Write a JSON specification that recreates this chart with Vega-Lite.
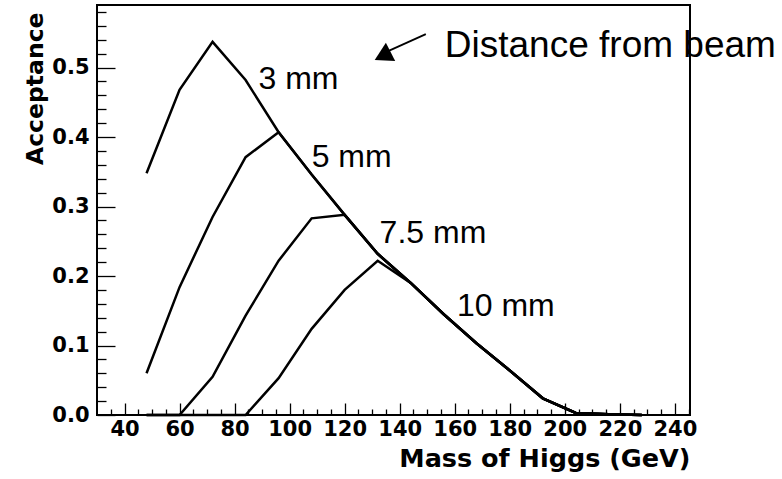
{
  "$schema": "https://vega.github.io/schema/vega-lite/v6.json",
  "width": 593,
  "height": 410,
  "autosize": "none",
  "padding": {"left": 97, "top": 5, "right": 92, "bottom": 64},
  "background": "white",
  "config": {
    "view": {"stroke": "#000", "strokeWidth": 2},
    "axis": {"grid": false, "domain": false, "tickColor": "#000", "labelColor": "#000", "titleColor": "#000", "labelFont": "DejaVu Sans", "labelFontWeight": "bold", "titleFont": "DejaVu Sans", "titleFontWeight": "bold", "tickWidth": 1.3}
  },
  "datasets": {
    "curves": [
      {"curve": "3 mm", "mass": 48, "acc": 0.348},
      {"curve": "3 mm", "mass": 60, "acc": 0.468},
      {"curve": "3 mm", "mass": 72, "acc": 0.537},
      {"curve": "3 mm", "mass": 84, "acc": 0.482},
      {"curve": "3 mm", "mass": 96, "acc": 0.407},
      {"curve": "3 mm", "mass": 108, "acc": 0.346},
      {"curve": "3 mm", "mass": 120, "acc": 0.288},
      {"curve": "3 mm", "mass": 132, "acc": 0.232},
      {"curve": "3 mm", "mass": 144, "acc": 0.19},
      {"curve": "3 mm", "mass": 156, "acc": 0.145},
      {"curve": "3 mm", "mass": 168, "acc": 0.103},
      {"curve": "3 mm", "mass": 180, "acc": 0.064},
      {"curve": "3 mm", "mass": 192, "acc": 0.024},
      {"curve": "3 mm", "mass": 204, "acc": 0.003},
      {"curve": "3 mm", "mass": 216, "acc": 0.001},
      {"curve": "3 mm", "mass": 228, "acc": 0.0},
      {"curve": "5 mm", "mass": 48, "acc": 0.06},
      {"curve": "5 mm", "mass": 60, "acc": 0.184},
      {"curve": "5 mm", "mass": 72, "acc": 0.285},
      {"curve": "5 mm", "mass": 84, "acc": 0.371},
      {"curve": "5 mm", "mass": 96, "acc": 0.407},
      {"curve": "5 mm", "mass": 108, "acc": 0.346},
      {"curve": "5 mm", "mass": 120, "acc": 0.288},
      {"curve": "5 mm", "mass": 132, "acc": 0.232},
      {"curve": "5 mm", "mass": 144, "acc": 0.19},
      {"curve": "5 mm", "mass": 156, "acc": 0.145},
      {"curve": "5 mm", "mass": 168, "acc": 0.103},
      {"curve": "5 mm", "mass": 180, "acc": 0.064},
      {"curve": "5 mm", "mass": 192, "acc": 0.024},
      {"curve": "5 mm", "mass": 204, "acc": 0.003},
      {"curve": "5 mm", "mass": 216, "acc": 0.001},
      {"curve": "5 mm", "mass": 228, "acc": 0.0},
      {"curve": "7.5 mm", "mass": 48, "acc": 0.0},
      {"curve": "7.5 mm", "mass": 60, "acc": 0.0},
      {"curve": "7.5 mm", "mass": 72, "acc": 0.055},
      {"curve": "7.5 mm", "mass": 84, "acc": 0.143},
      {"curve": "7.5 mm", "mass": 96, "acc": 0.222},
      {"curve": "7.5 mm", "mass": 108, "acc": 0.283},
      {"curve": "7.5 mm", "mass": 120, "acc": 0.288},
      {"curve": "7.5 mm", "mass": 132, "acc": 0.232},
      {"curve": "7.5 mm", "mass": 144, "acc": 0.19},
      {"curve": "7.5 mm", "mass": 156, "acc": 0.145},
      {"curve": "7.5 mm", "mass": 168, "acc": 0.103},
      {"curve": "7.5 mm", "mass": 180, "acc": 0.064},
      {"curve": "7.5 mm", "mass": 192, "acc": 0.024},
      {"curve": "7.5 mm", "mass": 204, "acc": 0.003},
      {"curve": "7.5 mm", "mass": 216, "acc": 0.001},
      {"curve": "7.5 mm", "mass": 228, "acc": 0.0},
      {"curve": "10 mm", "mass": 48, "acc": 0.0},
      {"curve": "10 mm", "mass": 60, "acc": 0.0},
      {"curve": "10 mm", "mass": 72, "acc": 0.0},
      {"curve": "10 mm", "mass": 84, "acc": 0.0},
      {"curve": "10 mm", "mass": 96, "acc": 0.053},
      {"curve": "10 mm", "mass": 108, "acc": 0.124},
      {"curve": "10 mm", "mass": 120, "acc": 0.18},
      {"curve": "10 mm", "mass": 132, "acc": 0.222},
      {"curve": "10 mm", "mass": 144, "acc": 0.19},
      {"curve": "10 mm", "mass": 156, "acc": 0.145},
      {"curve": "10 mm", "mass": 168, "acc": 0.103},
      {"curve": "10 mm", "mass": 180, "acc": 0.064},
      {"curve": "10 mm", "mass": 192, "acc": 0.024},
      {"curve": "10 mm", "mass": 204, "acc": 0.003},
      {"curve": "10 mm", "mass": 216, "acc": 0.001},
      {"curve": "10 mm", "mass": 228, "acc": 0.0}
    ],
    "labels": [
      {"text": "3 mm", "mass": 88.7, "acc": 0.469, "size": 32},
      {"text": "5 mm", "mass": 108, "acc": 0.357, "size": 32},
      {"text": "7.5 mm", "mass": 132.7, "acc": 0.247, "size": 32},
      {"text": "10 mm", "mass": 160.8, "acc": 0.143, "size": 32},
      {"text": "Distance from beam", "mass": 156.4, "acc": 0.515, "size": 37}
    ],
    "arrow": [
      {"mass": 149.5, "acc": 0.548, "mass2": 136.0, "acc2": 0.524}
    ],
    "arrowhead": [
      {"mass": 133.8, "acc": 0.5166}
    ]
  },
  "layer": [
    {
      "data": {"name": "curves"},
      "mark": {"type": "line", "color": "#000", "strokeWidth": 2.5, "strokeJoin": "miter"},
      "encoding": {
        "x": {"field": "mass", "type": "quantitative", "scale": {"domain": [30, 245.5], "nice": false, "zero": false},
          "axis": {"orient": "bottom", "values": [40, 60, 80, 100, 120, 140, 160, 180, 200, 220, 240], "tickSize": -12, "labelFontSize": 21, "labelPadding": 15, "title": "Mass of Higgs (GeV)", "titleFontSize": 25.5, "titleAnchor": "end", "titlePadding": 7}},
        "y": {"field": "acc", "type": "quantitative", "scale": {"domain": [0, 0.59], "nice": false},
          "axis": {"orient": "left", "values": [0, 0.1, 0.2, 0.3, 0.4, 0.5], "format": ".1f", "tickSize": -18, "labelFontSize": 21, "labelPadding": 26, "title": "Acceptance", "titleFontSize": 23.5, "titleAnchor": "end", "titleY": 7, "titlePadding": 4}},
        "detail": {"field": "curve"}
      }
    },
    {
      "data": {"name": "labels"},
      "mark": {"type": "text", "align": "left", "baseline": "alphabetic", "font": "Liberation Sans", "color": "#000"},
      "encoding": {
        "x": {"field": "mass", "type": "quantitative",
          "axis": {"orient": "bottom", "values": [35, 45, 50, 55, 65, 70, 75, 85, 90, 95, 105, 110, 115, 125, 130, 135, 145, 150, 155, 165, 170, 175, 185, 190, 195, 205, 210, 215, 225, 230, 235, 245], "tickSize": -6, "labels": false, "title": null, "domain": false}},
        "y": {"field": "acc", "type": "quantitative",
          "axis": {"orient": "left", "values": [0.02, 0.04, 0.06, 0.08, 0.12, 0.14, 0.16, 0.18, 0.22, 0.24, 0.26, 0.28, 0.32, 0.34, 0.36, 0.38, 0.42, 0.44, 0.46, 0.48, 0.52, 0.54, 0.56, 0.58], "tickSize": -9, "labels": false, "title": null, "domain": false}},
        "text": {"field": "text"},
        "size": {"field": "size", "type": "quantitative", "scale": null}
      }
    },
    {
      "data": {"name": "arrow"},
      "mark": {"type": "rule", "color": "#000", "strokeWidth": 1.8},
      "encoding": {
        "x": {"field": "mass", "type": "quantitative", "axis": null},
        "y": {"field": "acc", "type": "quantitative", "axis": null},
        "x2": {"field": "mass2"},
        "y2": {"field": "acc2"}
      }
    },
    {
      "data": {"name": "arrowhead"},
      "mark": {"type": "point", "shape": "triangle-left", "filled": true, "color": "#000", "opacity": 1, "size": 420, "angle": 333},
      "encoding": {
        "x": {"field": "mass", "type": "quantitative", "axis": null},
        "y": {"field": "acc", "type": "quantitative", "axis": null}
      }
    }
  ],
  "resolve": {"axis": {"x": "independent", "y": "independent"}}
}
